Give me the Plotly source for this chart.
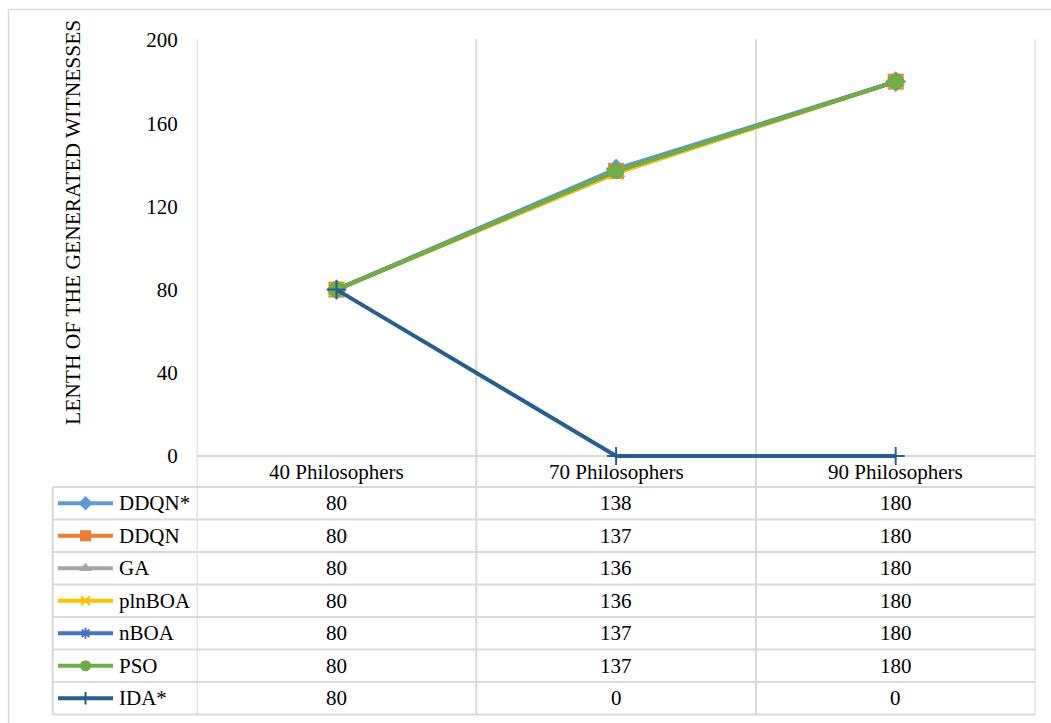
import plotly.graph_objects as go

# --- data -------------------------------------------------------------
categories = ["40 Philosophers", "70 Philosophers", "90 Philosophers"]
series_names = ["DDQN*", "DDQN", "GA", "plnBOA", "nBOA", "PSO", "IDA*"]
ddqn_star = [80, 138, 180]
ddqn = [80, 137, 180]
ga = [80, 136, 180]
plnboa = [80, 136, 180]
nboa = [80, 137, 180]
pso = [80, 137, 180]
ida_star = [80, 0, 0]
series_values = [ddqn_star, ddqn, ga, plnboa, nboa, pso, ida_star]
y_ticks = [0, 40, 80, 120, 160, 200]
y_title = "LENTH OF THE GENERATED WITNESSES"

# --- styling ----------------------------------------------------------
W, H = 1051, 723
FONT = "Liberation Serif, Times New Roman, serif"
FS = 21
GRID = "#D9D9D9"
colors = ["#5B9BD5", "#ED7D31", "#A5A5A5", "#FFC000", "#4472C4", "#70AD47", "#255E91"]
symbols = ["diamond", "square", "triangle-up", "x-thin", "asterisk", "circle", "cross-thin"]
thin = {"x-thin", "asterisk", "cross-thin"}

# pixel layout of the plot area and data table
px_left, px_right = 196.7, 1035.5
px_top, px_zero = 40.0, 456.0
grid_top = 39.0
cat_row_bottom = 487.0
row_h = 32.5
table_left = 52.7

# a little headroom below zero so the line at 0 is not clipped
y_min, y_max = -6, 200
px_per_unit = (px_zero - px_top) / y_max
px_bottom = px_zero - y_min * px_per_unit


def py(v):
    """pixel row -> paper y"""
    return 1 - v / H


def px(v):
    return v / W


fig = go.Figure()

# data lines
for name, vals, col, sym in zip(series_names, series_values, colors, symbols):
    is_thin = sym in thin
    fig.add_trace(go.Scatter(
        x=categories, y=vals, name=name, mode="lines+markers",
        line=dict(color=col, width=4),
        marker=dict(symbol=sym, size=13 if is_thin else 16, color=col,
                    line=dict(color=col, width=2 if is_thin else 0)),
        xaxis="x", yaxis="y", showlegend=False, cliponaxis=False,
    ))

# legend keys inside the table's first column (pixel-space overlay axes)
n_rows = len(series_names)
table_bottom = cat_row_bottom + row_h * n_rows
for i, (name, col, sym) in enumerate(zip(series_names, colors, symbols)):
    yc = cat_row_bottom + row_h * (i + 0.5)
    is_thin = sym in thin
    fig.add_trace(go.Scatter(
        x=[58, 113], y=[yc, yc], mode="lines", line=dict(color=col, width=4),
        xaxis="x2", yaxis="y2", showlegend=False, hoverinfo="skip",
    ))
    fig.add_trace(go.Scatter(
        x=[85.5], y=[yc], mode="markers",
        marker=dict(symbol=sym, size=9 if is_thin else 11, color=col,
                    line=dict(color=col, width=2 if is_thin else 0)),
        xaxis="x2", yaxis="y2", showlegend=False, hoverinfo="skip",
    ))

shapes = []
ann = []

# outer frame (top and left edges)
shapes.append(dict(type="line", xref="paper", yref="paper", x0=px(8.5), x1=1,
                   y0=py(9.5), y1=py(9.5), line=dict(color=GRID, width=1.5)))
shapes.append(dict(type="line", xref="paper", yref="paper", x0=px(8.5), x1=px(8.5),
                   y0=py(9.5), y1=0, line=dict(color=GRID, width=1.5)))

# vertical gridlines at category boundaries (through the table)
for b in [-0.5, 0.5, 1.5, 2.5]:
    shapes.append(dict(type="line", xref="x", yref="paper", x0=b, x1=b,
                       y0=py(grid_top), y1=py(table_bottom), line=dict(color=GRID, width=2),
                       layer="below"))
# table horizontal lines
shapes.append(dict(type="line", xref="paper", yref="paper", x0=px(px_left), x1=px(px_right),
                   y0=py(px_zero), y1=py(px_zero), line=dict(color=GRID, width=2), layer="below"))
for r in range(n_rows + 1):
    yy = cat_row_bottom + row_h * r
    shapes.append(dict(type="line", xref="paper", yref="paper", x0=px(table_left), x1=px(px_right),
                       y0=py(yy), y1=py(yy), line=dict(color=GRID, width=2)))
shapes.append(dict(type="line", xref="paper", yref="paper", x0=px(table_left), x1=px(table_left),
                   y0=py(cat_row_bottom), y1=py(table_bottom), line=dict(color=GRID, width=2)))

txt = dict(family=FONT, size=FS, color="black")

# category headers
for c in categories:
    ann.append(dict(x=c, y=py((px_zero + cat_row_bottom) / 2), xref="x", yref="paper",
                    xanchor="center", yanchor="middle", text=c, showarrow=False, font=txt))
# series names and values
for i, (name, vals) in enumerate(zip(series_names, series_values)):
    yc = py(cat_row_bottom + row_h * (i + 0.5))
    ann.append(dict(x=px(117), y=yc, xref="paper", yref="paper", text=name, xanchor="left",
                    yanchor="middle", showarrow=False, font=txt))
    for c, v in zip(categories, vals):
        ann.append(dict(x=c, y=yc, xref="x", yref="paper", text=str(v), xanchor="center",
                        yanchor="middle", showarrow=False, font=txt))
# y-axis title
ann.append(dict(x=px(73), y=py(223), xref="paper", yref="paper", text=y_title, textangle=-90,
                xanchor="center", yanchor="middle", showarrow=False,
                font=dict(family=FONT, size=21.5, color="black")))

fig.update_layout(
    width=W, height=H, margin=dict(l=0, r=0, t=0, b=0, autoexpand=False),
    paper_bgcolor="white", plot_bgcolor="rgba(0,0,0,0)", showlegend=False,
    xaxis=dict(domain=[px(px_left), px(px_right)], type="category", range=[-0.5, 2.5],
               showgrid=False, showticklabels=False, zeroline=False, showline=False, ticks=""),
    yaxis=dict(domain=[py(px_bottom), py(px_top)], range=[y_min, y_max], tickvals=y_ticks,
               showgrid=False, zeroline=False, showline=False, ticks="",
               tickfont=txt, ticklabelstandoff=18),
    xaxis2=dict(domain=[0, 1], range=[0, W], visible=False, anchor="y2", fixedrange=True),
    yaxis2=dict(domain=[0, 1], range=[H, 0], visible=False, anchor="x2", fixedrange=True),
    shapes=shapes, annotations=ann,
)

fig.write_html("out.html", config={"displayModeBar": False})
